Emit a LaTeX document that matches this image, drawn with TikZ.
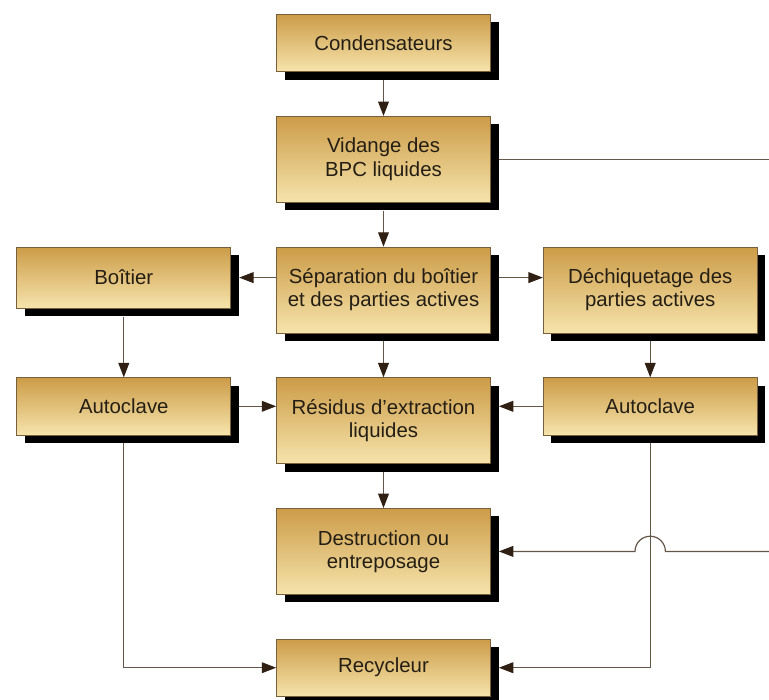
\documentclass[tikz,border=0pt]{standalone}
\usepackage{fontspec}
\setmainfont{Liberation Sans}
\usetikzlibrary{positioning,shadows,arrows.meta,calc}
\definecolor{goldtop}{RGB}{204,156,72}
\definecolor{goldbot}{RGB}{246,228,172}
\definecolor{boxline}{RGB}{120,96,60}
\definecolor{wire}{RGB}{100,86,72}
\definecolor{tipbrown}{RGB}{48,32,20}
\definecolor{ink}{RGB}{36,30,20}
\begin{document}
\begin{tikzpicture}[
  node distance=1.1cm and 1.125cm,
  every node/.style={font=\fontsize{14.5}{16.5}\selectfont, text=ink},
  stage/.style={rectangle, draw=boxline, line width=0.5pt,
    top color=goldtop, bottom color=goldbot,
    minimum width=5.35cm, minimum height=1.43cm, align=center,
    drop shadow={shadow xshift=0.2cm, shadow yshift=-0.2cm, fill=black, opacity=1}},
  tall/.style={stage, minimum height=2.15cm},
  flow/.style={draw=wire, line width=0.85pt, -{Triangle[length=0.36cm,width=0.27cm,color=tipbrown]}},
  wireline/.style={draw=wire, line width=0.85pt}
]
\useasboundingbox (0,0) rectangle (19.225,-17.5);
\coordinate (rim) at (19.225,0);

\node[stage] (cond) at (9.5875,-1.075) {Condensateurs};
\node[tall, below=of cond] (vid) {Vidange des\\BPC liquides};
\node[tall, below=of vid] (sep) {Séparation du boîtier\\et des parties actives};
\node[stage, minimum height=1.53cm, left=1.125cm of sep.north west, anchor=north east] (boitier) {Boîtier};
\node[tall, right=1.3cm of sep] (dech) {Déchiquetage des\\parties actives};
\node[tall, below=of sep] (res) {Résidus d'extraction\\liquides};
\node[stage, left=1.125cm of res.north west, anchor=north east] (autoL) {Autoclave};
\node[stage, right=1.3cm of res.north east, anchor=north west] (autoR) {Autoclave};
\node[tall, below=of res] (dest) {Destruction ou\\entreposage};
\node[stage, below=of dest] (rec) {Recycleur};

\draw[flow, shorten <=0.2cm] (cond) -- (vid);
\draw[flow, shorten <=0.2cm] (vid) -- (sep);
\draw[flow, shorten <=0.2cm] (sep) -- (res);
\draw[flow, shorten <=0.2cm] (res) -- (dest);
\draw[flow, shorten >=0.2cm] (sep.west |- boitier) -- (boitier.east);
\draw[flow, shorten <=0.2cm] (sep.east |- boitier) -- (dech.west |- boitier);
\draw[flow, shorten <=0.2cm] (boitier) -- (autoL);
\draw[flow, shorten <=0.2cm] (dech) -- (autoR);
\draw[flow, shorten <=0.2cm] (autoL) -- (autoL -| res.west);
\draw[flow, shorten >=0.2cm] (autoR) -- (autoR -| res.east);
\draw[flow, shorten <=0.2cm] (autoL.south) |- (rec.west);
\draw[flow, shorten <=0.2cm, shorten >=0.2cm] (autoR.south) |- (rec.east);
\draw[wireline, shorten <=0.2cm] (vid.east) -- (vid.east -| rim);
\draw[flow, shorten >=0.2cm] (dest.east -| rim) -- ($(dest.east -| autoR)+(0.38,0)$)
  arc[start angle=0, end angle=180, radius=0.38cm] -- (dest.east);
\end{tikzpicture}
\end{document}
